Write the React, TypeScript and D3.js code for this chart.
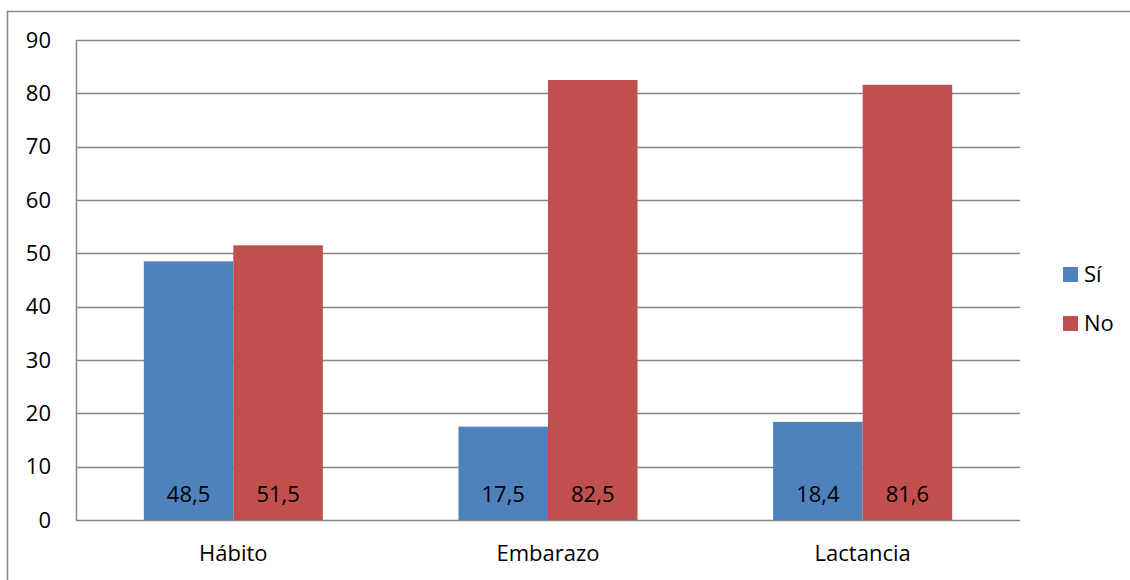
import React from "react";
import * as d3 from "d3";

const categories = ["Hábito", "Embarazo", "Lactancia"];
const seriesNames = ["Sí", "No"];
const siValues = [48.5, 17.5, 18.4];
const noValues = [51.5, 82.5, 81.6];
const yTicks = [0, 10, 20, 30, 40, 50, 60, 70, 80, 90];
const colors = ["#4F81BD", "#C0504D"];

const W = 1130;
const H = 580;
const plot = { left: 76, right: 1020, top: 40, bottom: 520 };
const font = "'Open Sans', 'Noto Sans', sans-serif";

export default function App() {
  const x0 = d3
    .scaleBand<string>()
    .domain(categories)
    .range([plot.left, plot.right])
    .paddingInner(0.431)
    .paddingOuter(0.2155);
  const x1 = d3.scaleBand<string>().domain(seriesNames).range([0, x0.bandwidth()]);
  const y = d3.scaleLinear().domain([0, 90]).range([plot.bottom, plot.top]);
  const values = [siValues, noValues];
  const fmt = (v: number) => v.toFixed(1).replace(".", ",");

  return (
    <svg
      width={W}
      height={H}
      style={{ position: "absolute", left: 0, top: 0, background: "#fff" }}
      fontFamily={font}
    >
      <rect x={7.5} y={11.5} width={1300} height={700} fill="#fff" stroke="#888" strokeWidth={1.5} />
      {yTicks.map((t) => (
        <g key={t}>
          <line
            x1={plot.left}
            x2={plot.right}
            y1={Math.round(y(t)) + 0.5}
            y2={Math.round(y(t)) + 0.5}
            stroke="#868686"
            strokeWidth={1.5}
          />
          <text x={51} y={y(t)} dy="0.35em" textAnchor="end" fontSize={22} fill="#000">
            {t}
          </text>
        </g>
      ))}
      <line x1={plot.left + 0.5} x2={plot.left + 0.5} y1={plot.top} y2={plot.bottom + 1} stroke="#868686" strokeWidth={1.5} />
      {categories.map((c, i) => (
        <g key={c}>
          {seriesNames.map((s, j) => {
            const v = values[j][i];
            const bx = (x0(c) ?? 0) + (x1(s) ?? 0);
            return (
              <g key={s}>
                <rect x={bx} y={y(v)} width={x1.bandwidth()} height={plot.bottom - y(v)} fill={colors[j]} />
                <text
                  x={bx + x1.bandwidth() / 2}
                  y={494}
                  dy="0.35em"
                  textAnchor="middle"
                  fontSize={22}
                  fill="#000"
                >
                  {fmt(v)}
                </text>
              </g>
            );
          })}
          <text
            x={(x0(c) ?? 0) + x0.bandwidth() / 2}
            y={553}
            dy="0.35em"
            textAnchor="middle"
            fontSize={22}
            fill="#000"
          >
            {c}
          </text>
        </g>
      ))}
      {seriesNames.map((s, j) => (
        <g key={s}>
          <rect x={1063} y={267 + j * 49} width={15} height={15} fill={colors[j]} />
          <text x={1084} y={274.5 + j * 49} dy="0.35em" fontSize={22} fill="#000">
            {s}
          </text>
        </g>
      ))}
    </svg>
  );
}
